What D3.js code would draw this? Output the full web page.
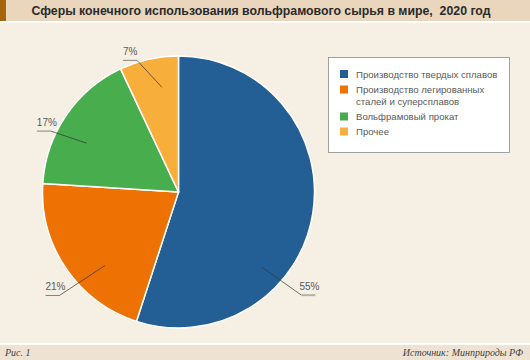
<!DOCTYPE html>
<html>
<head>
<meta charset="utf-8">
<script src="https://cdn.jsdelivr.net/npm/d3@7"></script>
<style>
  body { margin: 0; padding: 0; background: #f5efe4; }
  svg { display: block; }
</style>
</head>
<body>
<script>
(function() {
    var w = 530,
        h = 360;

    // data
    var categories = ['Производство твердых сплавов',
                      'Производство легированных\nсталей и суперсплавов',
                      'Вольфрамовый прокат',
                      'Прочее'];
    var shares = [55, 21, 17, 7];
    var labels = ['55%', '21%', '17%', '7%'];
    var colors = ['#235f95', '#ee7203', '#47ad4d', '#f7ae3b'];

    // label layout (angles in degrees from 12 o'clock, radii as fraction of r)
    var labInAngle = [132, 225, 298, 351];
    var labOutAngle = [130, 229, 295.5, 342.5];
    var labInner = [0.83, 0.765, 0.765, 0.78];
    var labOuter = [1.18, 1.16, 1.04, 1.015];
    var sides = [1, -1, -1, -1];

    var svg = d3.select('body')
        .append('svg')
        .attr('width', w)
        .attr('height', h);

    // background bands
    svg.append('rect').attr('width', w).attr('height', h).attr('fill', '#f5efe4');
    svg.append('rect').attr('width', w).attr('height', 21).attr('fill', '#e9d6bd');
    svg.append('rect').attr('width', 6).attr('height', 21).attr('fill', '#a4650d');
    svg.append('rect').attr('y', 21).attr('width', w).attr('height', 2).attr('fill', '#ffffff');
    svg.append('rect').attr('y', 343).attr('width', w).attr('height', 2).attr('fill', '#ffffff');
    svg.append('rect').attr('y', 345).attr('width', w).attr('height', 15).attr('fill', '#eee3d3');

    svg.append('text')
        .attr('x', 261)
        .attr('y', 15)
        .attr('text-anchor', 'middle')
        .attr('xml:space', 'preserve')
        .style('white-space', 'pre')
        .attr('font-family', 'Liberation Sans, Arial, sans-serif')
        .attr('font-size', 12.3)
        .attr('font-weight', 'bold')
        .attr('fill', '#2a2a2a')
        .text('Сферы конечного использования вольфрамового сырья в мире,  2020 год');

    svg.append('text')
        .attr('x', 5).attr('y', 356)
        .attr('font-family', 'Liberation Serif, serif')
        .attr('font-style', 'italic')
        .attr('font-size', 10)
        .attr('fill', '#444')
        .text('Рис. 1');
    svg.append('text')
        .attr('x', 523).attr('y', 356)
        .attr('text-anchor', 'end')
        .attr('font-family', 'Liberation Serif, serif')
        .attr('font-style', 'italic')
        .attr('font-size', 10)
        .attr('fill', '#444')
        .text('Источник: Минприроды РФ');

    // pie
    var cx = 178.5, cy = 192, r = 136;
    var pie = d3.pie().sort(null).value(function(d) { return d; });
    var arcs = pie(shares);
    var arc = d3.arc().innerRadius(0).outerRadius(r);
    var g = svg.append('g').attr('transform', 'translate(' + cx + ',' + cy + ')');

    g.selectAll('path.slice')
        .data(arcs)
        .enter()
        .append('path')
        .attr('class', 'slice')
        .attr('d', arc)
        .attr('fill', function(d, i) { return colors[i]; })
        .attr('stroke', '#ffffff')
        .attr('stroke-width', 1.5);

    function pt(angDeg, rad) {
        var a = angDeg * Math.PI / 180;
        return [Math.sin(a) * rad, -Math.cos(a) * rad];
    }

    // leader lines
    var lab = g.selectAll('g.lab')
        .data(arcs)
        .enter()
        .append('g')
        .attr('class', 'lab');

    lab.each(function(d, i) {
        var p1 = pt(labInAngle[i], r * labInner[i]),
            p2 = pt(labOutAngle[i], r * labOuter[i]),
            s = sides[i],
            p3 = [p2[0] + s * 14, p2[1]];
        var sel = d3.select(this);
        sel.append('line')
            .attr('x1', p1[0]).attr('y1', p1[1])
            .attr('x2', p2[0]).attr('y2', p2[1])
            .attr('stroke', '#333').attr('stroke-width', 0.7);
        sel.append('line')
            .attr('x1', p2[0]).attr('y1', p2[1])
            .attr('x2', p3[0]).attr('y2', p3[1])
            .attr('stroke', i === 0 ? '#b5b0a8' : '#555')
            .attr('stroke-width', i === 0 ? 2 : 0.7);
        sel.append('text')
            .attr('x', s > 0 ? p2[0] - 2 : p3[0])
            .attr('y', p2[1] - 5.5)
            .attr('font-family', 'Liberation Sans, Arial, sans-serif')
            .attr('font-size', 10)
            .attr('fill', '#5a5a5a')
            .text(labels[i]);
    });

    // legend
    var lg = svg.append('g').attr('transform', 'translate(328.5,57.5)');
    lg.append('rect')
        .attr('width', 181).attr('height', 95)
        .attr('fill', '#ffffff')
        .attr('stroke', '#8a8a8a').attr('stroke-width', 0.8);
    var ys = [16.5, 32, 59, 74];
    categories.forEach(function(c, i) {
        lg.append('rect')
            .attr('x', 11.5).attr('y', ys[i] - 4)
            .attr('width', 8).attr('height', 8)
            .attr('fill', colors[i]);
        var t = lg.append('text')
            .attr('x', 27.5).attr('y', ys[i] + 3.5)
            .attr('font-family', 'Liberation Sans, Arial, sans-serif')
            .attr('font-size', 9.6)
            .attr('fill', '#5a5a5a');
        c.split('\n').forEach(function(line, j) {
            t.append('tspan').attr('x', 27.5).attr('dy', j === 0 ? 0 : 12).text(line);
        });
    });
})();
</script>
</body>
</html>
